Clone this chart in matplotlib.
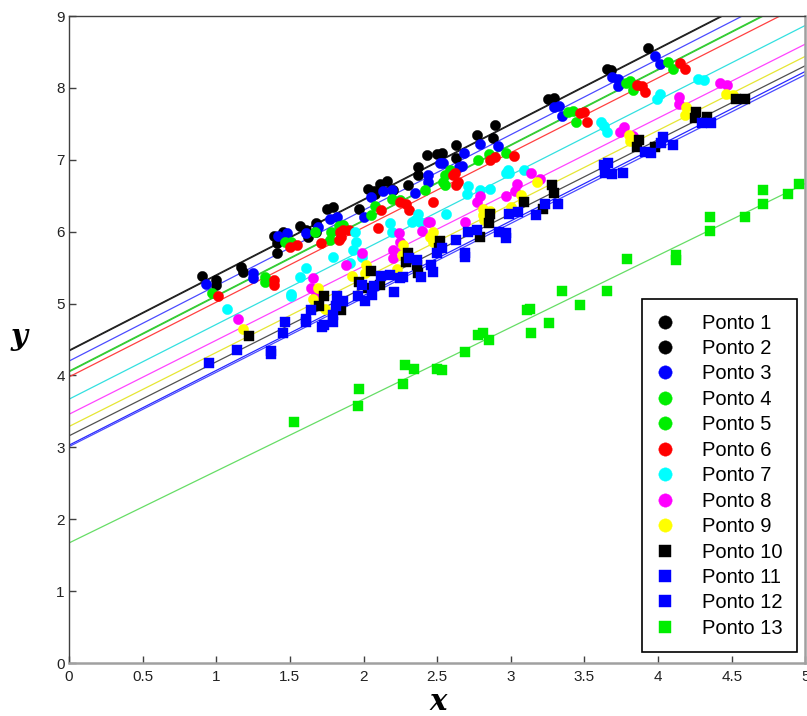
import numpy as np
import matplotlib
matplotlib.use("Agg")
import matplotlib.pyplot as plt
from matplotlib.ticker import FormatStrFormatter

plt.rcParams["font.family"] = ["Liberation Sans", "DejaVu Sans"]

# ---- data ----
labels = ["Ponto %d" % i for i in range(1, 14)]

p1_x = [0.90, 1.00, 1.18, 1.45, 1.41, 1.61, 1.68, 1.79, 2.03, 2.08, 2.16, 2.30, 2.37, 2.50, 2.63, 2.88, 3.25, 3.65, 3.93]
p1_y = [5.38, 5.26, 5.44, 5.99, 5.70, 6.02, 6.12, 6.35, 6.60, 6.53, 6.70, 6.65, 6.79, 7.08, 7.02, 7.31, 7.84, 8.26, 8.55]
p2_x = [1.00, 1.17, 1.39, 1.41, 1.57, 1.62, 1.68, 1.75, 1.97, 2.07, 2.11, 2.20, 2.37, 2.43, 2.53, 2.63, 2.77, 2.89, 3.29, 3.68]
p2_y = [5.33, 5.51, 5.94, 5.84, 6.08, 5.92, 5.99, 6.32, 6.32, 6.56, 6.67, 6.58, 6.90, 7.07, 7.09, 7.20, 7.35, 7.48, 7.86, 8.25]

p3_x = [0.93, 1.25, 1.25, 1.42, 1.48, 1.61, 1.69, 1.77, 1.82, 2.00, 2.05, 2.13, 2.19, 2.35, 2.44, 2.44,
        2.52, 2.54, 2.65, 2.68, 2.67, 2.79, 2.91, 3.29, 3.33, 3.35, 3.69, 3.73, 3.73, 3.98, 4.01]
p3_y = [5.27, 5.42, 5.35, 5.94, 5.98, 5.98, 6.07, 6.18, 6.21, 6.21, 6.48, 6.57, 6.58, 6.54, 6.79, 6.69,
        6.95, 6.96, 6.90, 7.09, 6.92, 7.22, 7.19, 7.74, 7.75, 7.61, 8.15, 8.13, 8.03, 8.44, 8.33]

p4_x = [0.97, 1.33, 1.47, 1.67, 1.78, 1.86, 2.08, 2.25, 2.54, 2.59, 2.78, 2.97, 3.42, 3.78, 3.83, 4.10]
p4_y = [5.15, 5.37, 5.85, 6.00, 6.00, 6.09, 6.36, 6.44, 6.69, 6.83, 7.00, 7.09, 7.68, 8.07, 7.97, 8.26]
p5_x = [1.33, 1.51, 1.77, 1.83, 2.05, 2.19, 2.42, 2.55, 2.59, 2.55, 2.85, 3.39, 3.44, 3.81, 4.07]
p5_y = [5.30, 5.86, 5.88, 6.08, 6.23, 6.46, 6.58, 6.79, 6.86, 6.65, 7.08, 7.67, 7.53, 8.09, 8.36]

p6_x = [1.01, 1.39, 1.39, 1.50, 1.55, 1.71, 1.83, 1.85, 1.84, 1.86, 1.90, 2.10, 2.12, 2.25, 2.29, 2.31,
        2.47, 2.61, 2.63, 2.62, 2.64, 2.86, 2.89, 3.02, 3.47, 3.50, 3.52, 3.86, 3.89, 3.91, 4.15, 4.18]
p6_y = [5.10, 5.33, 5.26, 5.79, 5.81, 5.84, 5.88, 5.93, 6.00, 6.02, 6.03, 6.05, 6.30, 6.42, 6.39, 6.30,
        6.42, 6.79, 6.65, 6.81, 6.69, 7.00, 7.04, 7.05, 7.65, 7.67, 7.52, 8.04, 8.03, 7.95, 8.34, 8.26]

p7_x = [1.07, 1.51, 1.51, 1.57, 1.61, 1.79, 1.91, 1.93, 1.95, 1.94, 1.99, 2.18, 2.19, 2.33, 2.35, 2.37, 2.38,
        2.56, 2.70, 2.71, 2.79, 2.86, 2.97, 2.98, 2.99, 3.09, 3.61, 3.63, 3.65, 3.99, 4.01, 4.27, 4.31]
p7_y = [4.92, 5.14, 5.10, 5.37, 5.49, 5.65, 5.56, 5.74, 5.85, 5.99, 5.65, 6.12, 6.00, 6.14, 6.16, 6.25, 6.14,
        6.25, 6.53, 6.63, 6.58, 6.59, 6.81, 6.86, 6.81, 6.86, 7.53, 7.47, 7.39, 7.85, 7.92, 8.13, 8.11]

p8_x = [1.15, 1.64, 1.66, 1.68, 1.88, 1.99, 2.20, 2.20, 2.25, 2.27, 2.24, 2.40, 2.44, 2.45, 2.69, 2.77,
        2.79, 2.97, 3.03, 3.04, 3.14, 3.20, 3.74, 3.77, 3.83, 4.14, 4.14, 4.42, 4.47]
p8_y = [4.78, 5.21, 5.35, 5.12, 5.54, 5.70, 5.75, 5.63, 5.86, 5.75, 5.98, 6.01, 6.14, 6.14, 6.14, 6.41,
        6.49, 6.49, 6.56, 6.66, 6.82, 6.74, 7.39, 7.46, 7.33, 7.88, 7.78, 8.07, 8.04]

p9_x = [1.18, 1.66, 1.69, 1.74, 1.92, 2.01, 2.02, 2.23, 2.26, 2.27, 2.47, 2.47, 2.45, 2.81, 2.81, 2.82,
        2.86, 3.00, 3.07, 3.08, 3.18, 3.80, 3.81, 4.19, 4.18, 4.25, 4.46, 4.51]
p9_y = [4.64, 5.06, 5.21, 4.93, 5.39, 5.42, 5.54, 5.48, 5.68, 5.81, 5.99, 5.86, 5.93, 6.32, 6.23, 6.16,
        6.29, 6.35, 6.51, 6.43, 6.69, 7.34, 7.26, 7.74, 7.63, 7.65, 7.92, 7.90]

p10_x = [1.22, 1.73, 1.70, 1.85, 1.97, 2.05, 2.03, 2.11, 2.29, 2.30, 2.36, 2.37, 2.52, 2.51, 2.79, 2.85,
         2.86, 3.09, 3.22, 3.28, 3.29, 3.87, 3.86, 3.98, 4.26, 4.25, 4.33, 4.53, 4.59]
p10_y = [4.55, 5.10, 4.96, 4.91, 5.30, 5.45, 5.21, 5.26, 5.58, 5.71, 5.54, 5.43, 5.87, 5.77, 5.93, 6.12,
         6.25, 6.42, 6.32, 6.65, 6.54, 7.28, 7.18, 7.18, 7.67, 7.58, 7.59, 7.85, 7.85]

p11_x = [0.95, 1.37, 1.45, 1.61, 1.64, 1.73, 1.79, 1.81, 1.96, 2.01, 2.07, 2.18, 2.25, 2.31, 2.39, 2.47,
         2.53, 2.69, 2.71, 2.92, 2.97, 3.05, 3.23, 3.63, 3.64, 3.76, 3.95, 4.02, 4.30]
p11_y = [4.18, 4.34, 4.59, 4.79, 4.91, 4.70, 4.84, 4.96, 5.10, 5.03, 5.24, 5.40, 5.35, 5.63, 5.37, 5.44,
         5.77, 5.70, 5.99, 6.00, 5.91, 6.28, 6.39, 6.93, 6.81, 6.81, 7.09, 7.23, 7.51]
p12_x = [1.14, 1.37, 1.47, 1.61, 1.72, 1.79, 1.82, 1.86, 1.99, 2.06, 2.12, 2.21, 2.27, 2.36, 2.46, 2.50,
         2.63, 2.69, 2.77, 2.97, 2.99, 3.17, 3.32, 3.66, 3.69, 3.91, 4.03, 4.10, 4.36]
p12_y = [4.35, 4.30, 4.74, 4.75, 4.68, 4.75, 5.10, 5.03, 5.26, 5.12, 5.38, 5.16, 5.37, 5.61, 5.54, 5.70,
         5.88, 5.65, 6.02, 5.98, 6.25, 6.23, 6.38, 6.95, 6.80, 7.11, 7.32, 7.20, 7.51]

p13_x = [1.53, 1.97, 1.96, 2.27, 2.28, 2.34, 2.50, 2.53, 2.69, 2.78, 2.81, 2.85, 3.11, 3.13, 3.14,
         3.26, 3.35, 3.47, 3.65, 3.79, 4.12, 4.12, 4.35, 4.35, 4.59, 4.71, 4.71, 4.88, 4.96]
p13_y = [3.35, 3.81, 3.57, 3.88, 4.15, 4.09, 4.09, 4.08, 4.32, 4.56, 4.59, 4.50, 4.91, 4.92, 4.59,
         4.73, 5.17, 4.98, 5.17, 5.62, 5.68, 5.61, 6.21, 6.01, 6.21, 6.58, 6.38, 6.52, 6.66]

# fitted lines drawn in the picture: intercept and slope per series
intercepts = [4.35, 4.34, 4.20, 4.06, 4.05, 3.98, 3.67, 3.46, 3.29, 3.16, 3.03, 3.01, 1.67]
slopes = [1.05, 1.05, 1.05, 1.05, 1.05, 1.04, 1.04, 1.03, 1.03, 1.03, 1.04, 1.035, 1.00]

xs = [p1_x, p2_x, p3_x, p4_x, p5_x, p6_x, p7_x, p8_x, p9_x, p10_x, p11_x, p12_x, p13_x]
ys = [p1_y, p2_y, p3_y, p4_y, p5_y, p6_y, p7_y, p8_y, p9_y, p10_y, p11_y, p12_y, p13_y]

marker_colors = ["#000000", "#000000", "#0000ff", "#00ee00", "#00ee00", "#ff0000", "#00ffff",
                 "#ff00ff", "#ffff00", "#000000", "#0000ff", "#0000ff", "#00ee00"]
line_colors = ["#202020", "#202020", "#4b4bff", "#33cc33", "#33cc33", "#ff4040", "#33e0e0",
               "#ff44ff", "#e6e633", "#505050", "#2828ff", "#4a4aff", "#66dd66"]
markers = ["o"] * 9 + ["s"] * 4

fig = plt.figure(figsize=(8.07, 7.16), dpi=100)
ax = fig.add_axes([0.0855, 0.074, 0.9125, 0.9036])

xline = np.array([0.0, 5.0])
for b, m, c in zip(intercepts, slopes, line_colors):
    ax.plot(xline, b + m * xline, color=c, lw=0.9, zorder=2)

handles = []
for x, y, c, mk, lab in zip(xs, ys, marker_colors, markers, labels):
    ms = 7.4 if mk == "o" else 6.6
    h, = ax.plot(x, y, linestyle="none", marker=mk, ms=ms, mfc=c, mec=c, mew=0.3,
                 label=lab, zorder=3)
    handles.append(h)

ax.set_xlim(0, 5)
ax.set_ylim(0, 9)
ax.set_xticks(np.arange(0, 5.01, 0.5))
ax.set_yticks(np.arange(0, 10, 1))
ax.xaxis.set_major_formatter(FormatStrFormatter("%g"))
ax.tick_params(direction="in", length=5, width=1, color="#404040",
               labelsize=11, labelcolor="#222222")
ax.tick_params(axis="x", pad=5)
ax.tick_params(axis="y", pad=3)

for side in ["left", "top"]:
    ax.spines[side].set_color("#404040")
    ax.spines[side].set_linewidth(1.0)
for side in ["bottom", "right"]:
    ax.spines[side].set_color("#a0a0a0")
    ax.spines[side].set_linewidth(1.8)

# axis names as bold italic serif letters
fig.text(438 / 807, 1 - 710 / 716, "x", fontsize=21, family="DejaVu Serif",
         fontweight="bold", style="italic", ha="center", va="baseline")
fig.text(19 / 807, 1 - 345 / 716, "y", fontsize=21, family="DejaVu Serif",
         fontweight="bold", style="italic", ha="center", va="baseline")

leg = ax.legend(handles=handles, loc="lower right", bbox_to_anchor=(0.988, 0.017),
                borderaxespad=0, fontsize=14.5, markerscale=1.3, handlelength=0.8,
                handletextpad=1.45, labelspacing=0.32, borderpad=0.7, fancybox=False,
                framealpha=1, edgecolor="#000000")
leg.get_frame().set_linewidth(1.2)

fig.savefig("out.png", dpi=100)
